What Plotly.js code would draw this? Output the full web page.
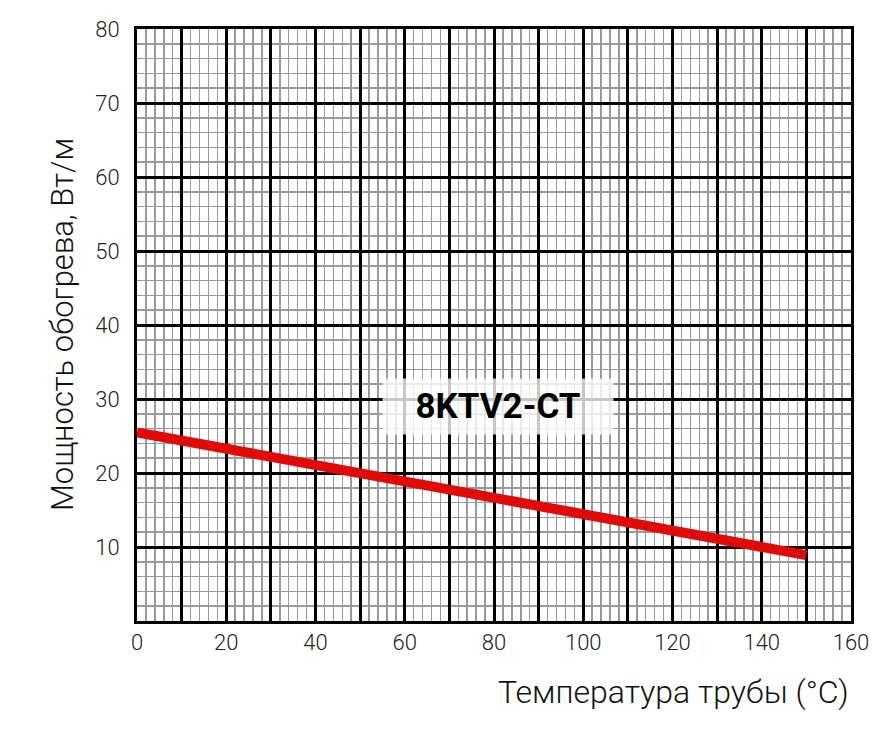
<!DOCTYPE html>
<html>
<head>
<meta charset="utf-8">
<script src="https://cdn.plot.ly/plotly-3.0.1.min.js"></script>
<style>html,body{margin:0;padding:0;background:#fff;}#chart{width:895px;height:740px;}</style>
</head>
<body>
<div id="chart"></div>
<script>
// Data
const temperature = [0, 150];
const power = [25.5, 8.9];
const seriesName = "8KTV2-CT";
const xHiddenLabels = ["10","30","50","70","90","110","130","150"];
const yHiddenLabels = ["0"];
const xTitle = "Температура трубы (°С)";
const yTitle = "Мощность обогрева, Вт/м";

const trace = {
  x: temperature, y: power, mode: "lines", name: seriesName,
  line: {color: "#e10a0a", width: 10}, hoverinfo: "skip"
};

function aliasMap(list) { const m = {}; list.forEach(v => m[v] = ""); return m; }

const axisCommon = {
  showline: true, mirror: true, linecolor: "#000", linewidth: 3,
  showgrid: true, gridcolor: "#000", gridwidth: 3,
  zeroline: false, ticks: "", tickmode: "linear", tick0: 0, dtick: 10,
  tickfont: {family: "Roboto", size: 22, color: "#222", weight: 300},
  minor: {tickmode: "linear", tick0: 0, dtick: 2, showgrid: true, gridcolor: "#9a9a9a", gridwidth: 1.5, ticks: ""}
};

const layout = {
  width: 895, height: 740,
  margin: {l: 137, r: 44, t: 29, b: 119},
  paper_bgcolor: "#fff", plot_bgcolor: "#fff",
  showlegend: false,
  xaxis: Object.assign({}, axisCommon, {range: [0, 160], labelalias: aliasMap(xHiddenLabels), ticklabelstandoff: 0}),
  yaxis: Object.assign({}, axisCommon, {range: [0, 80], labelalias: aliasMap(yHiddenLabels), ticklabelstandoff: 10}),
  annotations: [
    {text: "<b>" + seriesName + "</b>", x: 81, y: 29, xref: "x", yref: "y",
     showarrow: false, font: {family: "Roboto", size: 35, color: "#000"},
     bgcolor: "rgba(255,255,255,0.78)", width: 228, height: 53, borderpad: 1},
    {text: xTitle, x: 1, xref: "paper", xanchor: "right", y: 0, yref: "paper",
     yanchor: "middle", showarrow: false,
     font: {family: "Roboto", size: 32, color: "#111", weight: 300}},
    {text: yTitle, x: 0, y: 0.5, xref: "paper", yref: "paper", textangle: -90,
     xanchor: "center", yanchor: "middle",
     showarrow: false, font: {family: "Roboto", size: 31, color: "#111", weight: 300}}
  ]
};
// convert pixel title positions to paper coords
const plotW = 895 - 137 - 44, plotH = 740 - 29 - 119;
layout.annotations[1].y = (740 - 119 - 692) / plotH;
layout.annotations[2].x = (62 - 137) / plotW;

Plotly.newPlot("chart", [trace], layout, {displayModeBar: false, staticPlot: true});
</script>
</body>
</html>
